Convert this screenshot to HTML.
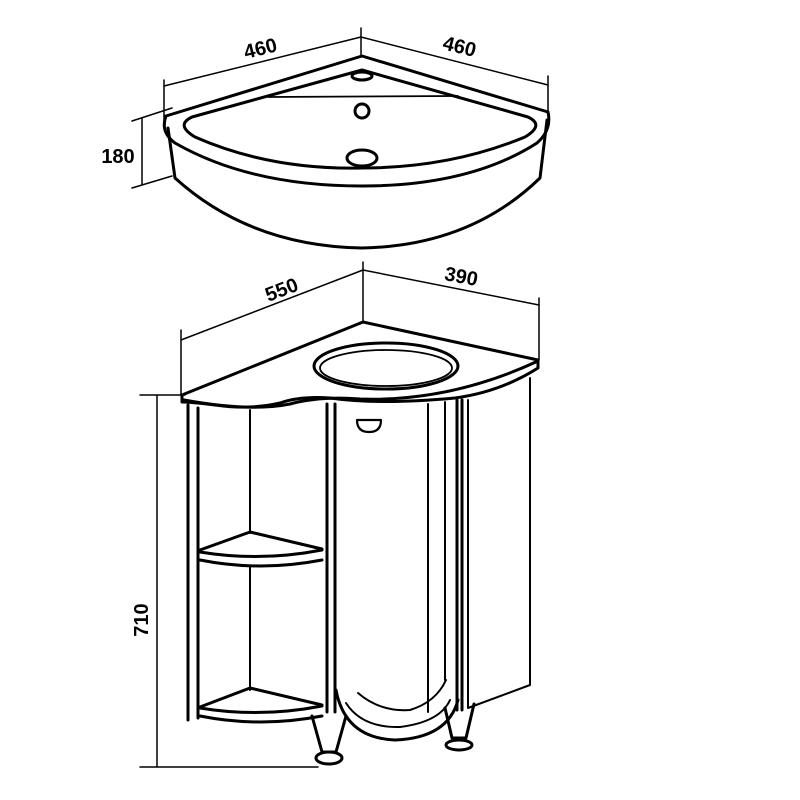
<!DOCTYPE html>
<html><head><meta charset="utf-8"><style>html,body{margin:0;padding:0;background:#fff}svg{display:block}</style></head>
<body>
<svg width="800" height="800" viewBox="0 0 800 800" xmlns="http://www.w3.org/2000/svg" fill="none" stroke="#000" stroke-linecap="round" stroke-linejoin="round">
<g font-family="Liberation Sans, sans-serif" font-size="20" fill="#000" stroke="none" font-weight="600">
<text x="262" y="55" text-anchor="middle" transform="rotate(-14 262 55)">460</text>
<text x="458" y="53" text-anchor="middle" transform="rotate(14 458 53)">460</text>
<text x="118" y="163" text-anchor="middle">180</text>
<text x="284" y="296" text-anchor="middle" transform="rotate(-21 284 296)">550</text>
<text x="460" y="283" text-anchor="middle" transform="rotate(11 460 283)">390</text>
<text x="148" y="620" text-anchor="middle" transform="rotate(-90 148 620)">710</text>
</g>
<!-- sink dimensions -->
<g stroke-width="1.5">
<path d="M164 86 L361 37 L548 85"/>
<path d="M164 80 V122 M361 28 V56 M548 76 V112"/>
<path d="M142 118 V185 M132 121 L172 108 M132 188 L172 176"/>
</g>
<!-- sink -->
<g stroke-width="3">
<path d="M166 116 L362 56 L548 112"/>
<path d="M166 116 Q160 132 175 143 Q250 186 362 186 Q470 186 537 143 Q552 130 548 112"/>
<path d="M362 70 L192 117 Q175 125 195 137 Q270 170 362 168 Q450 168 525 137 Q545 125 528 117 Z"/>
<path d="M168 128 L175 178 Q250 246 362 248 Q470 246 540 178 L547 120"/>
<ellipse cx="362" cy="76" rx="10" ry="4"/>
<circle cx="362" cy="111" r="7"/>
<ellipse cx="362" cy="158" rx="15" ry="8"/>
</g>
<path d="M268 97 L458 96" stroke-width="1.8"/>
<!-- cabinet dimensions -->
<g stroke-width="1.5">
<path d="M181 340 L363 270 L539 305"/>
<path d="M181 330 V396 M363 262 V322 M539 298 V360"/>
<path d="M157 395 V767 M140 395 L185 395 M140 767 L318 767"/>
</g>
<!-- countertop -->
<g stroke-width="3">
<path d="M182 395 L363 322 L538 360 L538 368 Q500 392 455 398 Q380 405 330 398 Q300 396 280 403 Q250 410 215 405 Q190 402 182 402 Z"/>
<path d="M184 400 Q250 412 290 404 Q320 396 360 399 Q450 402 538 361"/>
<ellipse cx="386" cy="366" rx="72" ry="23"/>
<ellipse cx="386" cy="368" rx="66" ry="18" stroke-width="1.8"/>
</g>
<!-- cabinet body -->
<g stroke-width="3">
<path d="M188 405 V720 M198 408 V718"/>
<path d="M250 410 V533 M250 566 V690" stroke-width="2"/>
<path d="M327 404 V712 M335 404 V712"/>
<path d="M200 550 L250 532 L322 549"/>
<path d="M200 552 Q260 562 322 550 M200 560 Q260 572 322 560"/>
<path d="M200 707 L250 688 L322 705"/>
<path d="M200 708 Q260 718 322 706 M200 716 Q260 728 322 716"/>
<path d="M336 690 Q345 738 395 740 Q448 738 458 700"/>
<path d="M346 703 Q362 728 400 727 Q440 722 450 700" stroke-width="2"/>
<path d="M358 693 Q380 712 410 710 Q436 702 446 680" stroke-width="2"/>
<path d="M428 404 V712 M445 402 V680" stroke-width="2"/>
<path d="M457 400 V710 M462 400 V710"/>
<path d="M468 400 V708 L530 685 V378" stroke-width="2"/>
<path d="M357 420 H381 Q381 432 369 432 Q357 432 357 420 Z" stroke-width="2.2"/>
<path d="M312 716 L322 752 H336 L346 716"/>
<ellipse cx="329" cy="758" rx="13" ry="6"/>
<path d="M445 708 L452 738 H466 L474 704"/>
<ellipse cx="459" cy="745" rx="13" ry="5"/>
</g>
</svg>
</body></html>
